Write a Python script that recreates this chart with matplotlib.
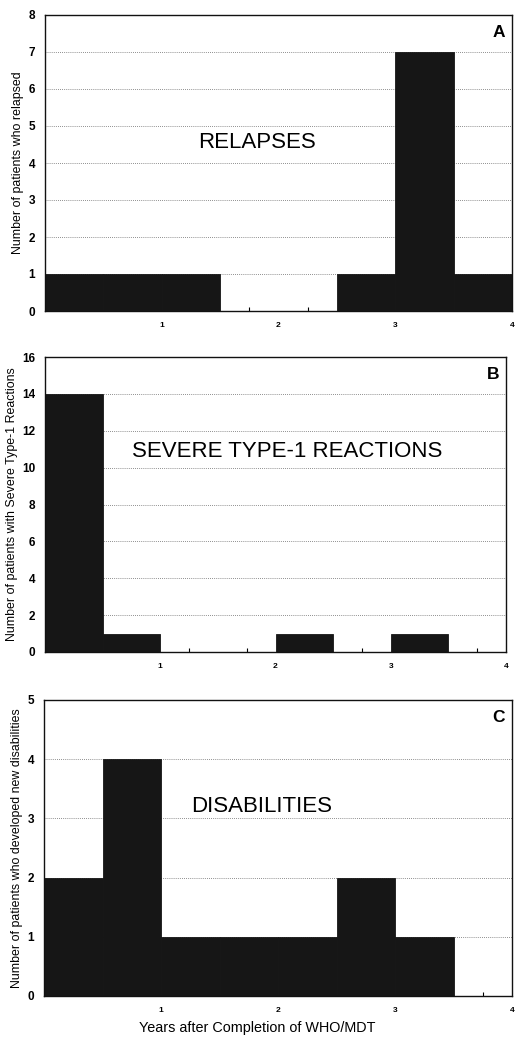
import numpy as np
import matplotlib.pyplot as plt
from matplotlib.ticker import MultipleLocator, FixedLocator

plt.rcParams['font.family'] = ['Liberation Sans', 'DejaVu Sans']

# ── data: patient counts per half-year interval after WHO/MDT ──
bin_edges = [0.0, 0.5, 1.0, 1.5, 2.0, 2.5, 3.0, 3.5, 4.0]
relapses = [1, 1, 1, 0, 0, 1, 7, 1]
reactions = [14, 1, 0, 0, 1, 0, 1, 0]
disabilities = [2, 4, 1, 1, 1, 2, 1, 0]

x_ticks = [1, 2, 3, 4]
x_tick_labels = ['1', '2', '3', '4']
minor_ticks = [0.25, 0.75, 1.25, 1.75, 2.25, 2.75, 3.25, 3.75]

panels = [
    dict(counts=relapses, ymax=8, ystep=1, letter='A', label='RELAPSES',
         text_xy=(1.82, 4.55), ylabel='Number of patients who relapsed',
         rect=[45, 15, 512, 311]),
    dict(counts=reactions, ymax=16, ystep=2, letter='B',
         label='SEVERE TYPE-1 REACTIONS', text_xy=(2.1, 10.9),
         ylabel='Number of patients with Severe Type-1 Reactions',
         rect=[45, 357, 506, 652]),
    dict(counts=disabilities, ymax=5, ystep=1, letter='C', label='DISABILITIES',
         text_xy=(1.86, 3.2),
         ylabel='Number of patients who developed new disabilities',
         rect=[44, 700, 512, 996]),
]

W, H = 515, 1037
fig = plt.figure(figsize=(W / 100, H / 100), dpi=100)

for p in panels:
    l, t, r, b = p['rect']
    ax = fig.add_axes([l / W, 1 - b / H, (r - l) / W, (b - t) / H])
    ax.set_axisbelow(True)

    lefts = np.array(bin_edges[:-1])
    widths = np.diff(bin_edges)
    ax.bar(lefts, p['counts'], width=widths, align='edge',
           color='#161616', edgecolor='#161616', linewidth=0.6, zorder=2)

    ax.set_xlim(0, 4)
    ax.set_ylim(0, p['ymax'])
    ax.yaxis.set_major_locator(MultipleLocator(p['ystep']))
    ax.xaxis.set_major_locator(FixedLocator(x_ticks))
    ax.set_xticklabels(x_tick_labels)
    ax.xaxis.set_minor_locator(FixedLocator(minor_ticks))

    # dotted gridlines at inner y ticks only
    for yv in np.arange(p['ystep'], p['ymax'], p['ystep']):
        ax.axhline(yv, color='#6a6a6a', linestyle=(0, (1, 1.5)),
                   linewidth=0.6, zorder=1)

    ax.tick_params(axis='x', which='major', length=0, pad=8,
                   labelsize=6)
    ax.tick_params(axis='x', which='minor', direction='in', length=3,
                   width=0.8)
    ax.tick_params(axis='y', which='major', length=0, pad=7, labelsize=8.5)
    for lab in ax.get_xticklabels() + ax.get_yticklabels():
        lab.set_fontweight('bold')

    for s in ax.spines.values():
        s.set_linewidth(1.0)
        s.set_color('#111111')

    ax.set_ylabel(p['ylabel'], fontsize=8.9, labelpad=3)
    ax.text(*p['text_xy'], p['label'], ha='center', va='center', fontsize=16)
    ax.text(0.985, 0.94, p['letter'], transform=ax.transAxes, ha='right',
            va='center', fontsize=12.5, fontweight='bold')

    if p['letter'] == 'C':
        ax.set_xlabel('Years after Completion of WHO/MDT', fontsize=10.4,
                      labelpad=4)
        ax.xaxis.set_label_coords(0.455, -0.085)

fig.savefig('out.png', dpi=100)
